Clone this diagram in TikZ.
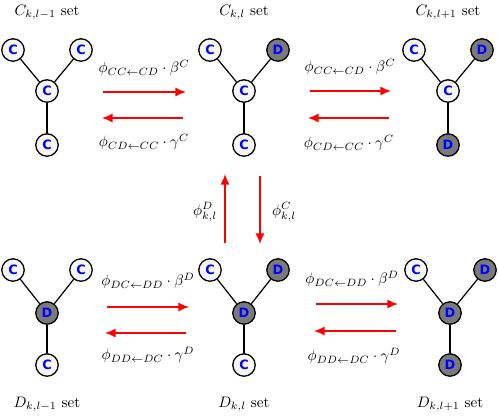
\documentclass[tikz,border=0pt]{standalone}
\usepackage{fontspec}
\newfontfamily\nodefont{DejaVu Sans}
\usetikzlibrary{arrows.meta}
\begin{document}
\begin{tikzpicture}[x=0.66pt,y=-0.66pt,
  cnode/.style={circle,draw=black,line width=0.85pt,fill=gray!6,minimum size=14.8pt,inner sep=0pt,
    font=\nodefont\bfseries\fontsize{8.5}{9}\selectfont,text=blue},
  dnode/.style={cnode,fill=black!52},
  edge/.style={line width=0.8pt},
  rarrow/.style={red,line width=1.1pt,-{Latex[length=7pt,width=6pt]}},
  lab/.style={inner sep=1pt}
]
\useasboundingbox (0,0) rectangle (498,416);
% Top row
\node[cnode] (a1) at (13,50) {C};
\node[cnode] (a2) at (81,50) {C};
\node[cnode] (a0) at (47,91) {C};
\node[cnode] (a3) at (47,145) {C};
\node[cnode] (b1) at (210,50) {C};
\node[dnode] (b2) at (278,50) {D};
\node[cnode] (b0) at (244,91) {C};
\node[cnode] (b3) at (244,145) {C};
\node[cnode] (c1) at (414,50) {C};
\node[dnode] (c2) at (482,50) {D};
\node[cnode] (c0) at (448,91) {C};
\node[dnode] (c3) at (448,145) {D};
% Bottom row
\node[cnode] (d1) at (13,270) {C};
\node[cnode] (d2) at (81,270) {C};
\node[dnode] (d0) at (47,313) {D};
\node[cnode] (d3) at (47,365) {C};
\node[cnode] (e1) at (210,270) {C};
\node[dnode] (e2) at (278,270) {D};
\node[dnode] (e0) at (244,313) {D};
\node[cnode] (e3) at (244,365) {C};
\node[cnode] (f1) at (416,270) {C};
\node[dnode] (f2) at (485,270) {D};
\node[dnode] (f0) at (450,313) {D};
\node[dnode] (f3) at (450,365) {D};
\foreach \g in {a,b,c,d,e,f}{
  \draw[edge] (\g0) -- (\g1);
  \draw[edge] (\g0) -- (\g2);
  \draw[edge] (\g0) -- (\g3);
}
% set labels
\node[lab] (ta) at (47,12) {$C_{k,l-1}$ set};
\node[lab] (tb) at (244,12) {$C_{k,l}$ set};
\node[lab] (tc) at (448,12) {$C_{k,l+1}$ set};
\node[lab] (ba) at (47,404) {$D_{k,l-1}$ set};
\node[lab] (bb) at (244,404) {$D_{k,l}$ set};
\node[lab] (bc) at (450,404) {$D_{k,l+1}$ set};
% horizontal arrows, top row
\coordinate (h1s) at (103,92); \coordinate (h1e) at (186,92);
\coordinate (h2s) at (183,118); \coordinate (h2e) at (102,118);
\draw[rarrow] (h1s) -- (h1e);
\draw[rarrow] (h2s) -- (h2e);
\node[lab] (l1) at (144,68) {$\phi_{CC\leftarrow CD}\cdot\beta^{C}$};
\node[lab] (l2) at (144,142) {$\phi_{CD\leftarrow CC}\cdot\gamma^{C}$};
\coordinate (h3s) at (310,91); \coordinate (h3e) at (391,91);
\coordinate (h4s) at (389,118); \coordinate (h4e) at (308,118);
\draw[rarrow] (h3s) -- (h3e);
\draw[rarrow] (h4s) -- (h4e);
\node[lab] (l3) at (350,67) {$\phi_{CC\leftarrow CD}\cdot\beta^{C}$};
\node[lab] (l4) at (349,143) {$\phi_{CD\leftarrow CC}\cdot\gamma^{C}$};
% horizontal arrows, bottom row
\coordinate (h5s) at (107,307); \coordinate (h5e) at (189,307);
\coordinate (h6s) at (186,333); \coordinate (h6e) at (105,333);
\draw[rarrow] (h5s) -- (h5e);
\draw[rarrow] (h6s) -- (h6e);
\node[lab] (l5) at (148,281) {$\phi_{DC\leftarrow DD}\cdot\beta^{D}$};
\node[lab] (l6) at (148,355) {$\phi_{DD\leftarrow DC}\cdot\gamma^{D}$};
\coordinate (h7s) at (316,304); \coordinate (h7e) at (398,304);
\coordinate (h8s) at (396,331); \coordinate (h8e) at (314,331);
\draw[rarrow] (h7s) -- (h7e);
\draw[rarrow] (h8s) -- (h8e);
\node[lab] (l7) at (352,279) {$\phi_{DC\leftarrow DD}\cdot\beta^{D}$};
\node[lab] (l8) at (354,356) {$\phi_{DD\leftarrow DC}\cdot\gamma^{D}$};
% vertical arrows
\coordinate (v1s) at (225,243); \coordinate (v1e) at (225,174);
\coordinate (v2s) at (260,176); \coordinate (v2e) at (260,244);
\draw[rarrow] (v1s) -- (v1e);
\draw[rarrow] (v2s) -- (v2e);
\node[lab] (l9) at (205,212) {$\phi^{D}_{k,l}$};
\node[lab] (l10) at (284,212) {$\phi^{C}_{k,l}$};
\end{tikzpicture}
\end{document}
